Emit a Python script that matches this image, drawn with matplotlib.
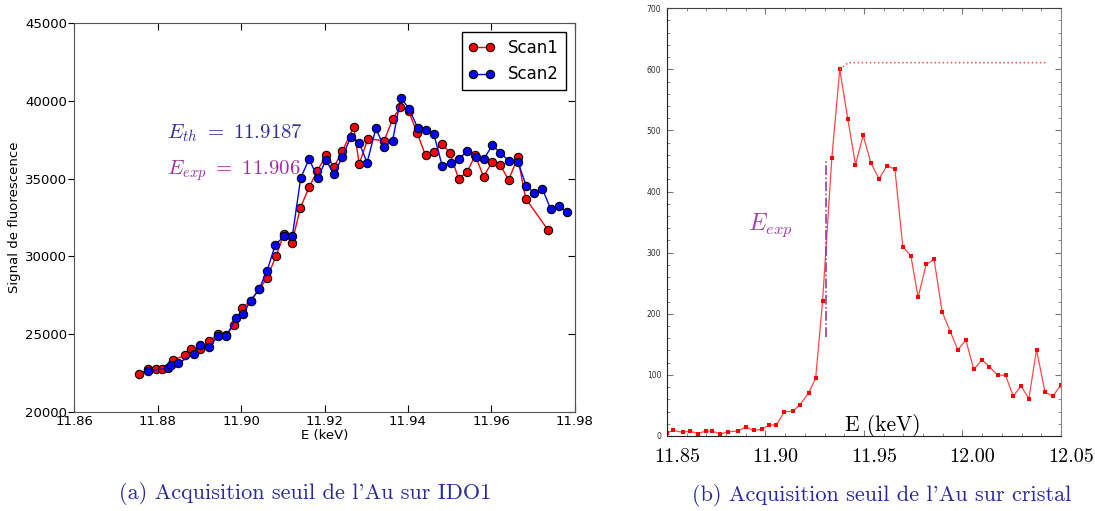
import matplotlib
matplotlib.use("Agg")
import matplotlib.pyplot as plt
from matplotlib.ticker import MultipleLocator
from matplotlib.transforms import ScaledTranslation

plt.rcParams["mathtext.fontset"] = "cm"

# ---- (a) IDO1 : deux scans ----
scan1_e = [11.8756, 11.8778, 11.8796, 11.8811, 11.8836, 11.8867, 11.8881, 11.8902, 11.8924, 11.8944,
           11.8964, 11.8984, 11.9002, 11.9023, 11.9044, 11.9062, 11.9084, 11.9103, 11.9122, 11.9142,
           11.9163, 11.9183, 11.9204, 11.9223, 11.9243, 11.9270, 11.9283, 11.9304, 11.9343, 11.9363,
           11.9382, 11.9402, 11.9422, 11.9442, 11.9462, 11.9482, 11.9501, 11.9521, 11.9541, 11.9561,
           11.9581, 11.9601, 11.9621, 11.9641, 11.9663, 11.9682, 11.9735]
scan1_sig = [22432, 22750, 22754, 22773, 23312, 23655, 24021, 24021, 24536, 24987,
             24942, 25585, 26660, 27149, 27883, 28610, 30026, 31461, 30862, 33114,
             34447, 35515, 36506, 35772, 36782, 38346, 35946, 37574, 37446, 38823,
             39633, 39337, 37921, 36506, 36738, 37233, 36635, 35000, 35411, 36506,
             35129, 36056, 35882, 34917, 36377, 33713, 31718]

scan2_e = [11.8777, 11.8824, 11.8832, 11.8850, 11.8887, 11.8902, 11.8923, 11.8944, 11.8964, 11.8988,
           11.9004, 11.9023, 11.9043, 11.9062, 11.9082, 11.9104, 11.9123, 11.9143, 11.9163, 11.9184,
           11.9203, 11.9223, 11.9243, 11.9263, 11.9283, 11.9302, 11.9323, 11.9343, 11.9363, 11.9383,
           11.9403, 11.9423, 11.9443, 11.9462, 11.9482, 11.9502, 11.9522, 11.9542, 11.9562, 11.9582,
           11.9602, 11.9621, 11.9641, 11.9663, 11.9683, 11.9702, 11.9722, 11.9742, 11.9762, 11.9782]
scan2_sig = [22625, 22799, 23031, 23140, 23719, 24279, 24150, 24858, 24858, 26017,
             26274, 27149, 27883, 29041, 30734, 31333, 31313, 35045, 36268, 35045,
             36185, 35323, 36415, 37703, 37317, 36030, 38243, 37021, 37446, 40212,
             39486, 38282, 38134, 37857, 35817, 36030, 36287, 36763, 36415, 36287,
             37150, 36673, 36171, 36100, 34550, 34099, 34350, 33020, 33243, 32850]

E_th = 11.9187
E_exp_a = 11.906

# ---- (b) cristal ----
cristal_e = [11.850, 11.853, 11.858, 11.8615, 11.8656, 11.8697, 11.873, 11.877, 11.881, 11.886,
             11.890, 11.894, 11.898, 11.902, 11.9055, 11.9095, 11.914, 11.9175, 11.922, 11.9255,
             11.929, 11.9337, 11.9377, 11.9418, 11.9457, 11.9496, 11.9536, 11.9577, 11.9616, 11.9657,
             11.9697, 11.9738, 11.9775, 11.9816, 11.9856, 11.9897, 11.9938, 11.9977, 12.0017, 12.0058,
             12.0099, 12.0137, 12.0178, 12.0219, 12.0258, 12.0297, 12.0337, 12.0376, 12.0419, 12.0459,
             12.0498]
cristal_cps = [5, 9, 6, 8, 4, 8, 8, 3, 7, 8,
               15, 9, 11, 18, 18, 39, 41, 51, 71, 95,
               221, 455, 600, 519, 444, 492, 446, 421, 442, 437,
               310, 295, 227, 281, 289, 203, 171, 141, 157, 109,
               125, 113, 100, 99, 65, 82, 61, 141, 72, 65,
               83]

# palier (pointillés) et trait du seuil
palier_e = [11.9377, 11.942, 12.043]
palier_cps = [600, 611, 611]
seuil_e = [11.9306, 11.9306]
seuil_cps = [162, 451]

x_ticks_b = [11.85, 11.90, 11.95, 12.00, 12.05]

fig = plt.figure(figsize=(10.95, 5.11), dpi=100)

# ================= panneau (a) =================
ax1 = fig.add_axes([0.0676, 0.1941, 0.4575, 0.7603])
ax1.plot(scan1_e, scan1_sig, "-o", color="red", mfc="red", mec="black", mew=0.8,
         ms=6, lw=1, label="Scan1")
ax1.plot(scan2_e, scan2_sig, "-o", color="blue", mfc="blue", mec="black", mew=0.8,
         ms=6, lw=1, label="Scan2")
ax1.set_xlim(11.86, 11.98)
ax1.set_ylim(20000, 45000)
ax1.set_xticks([11.86, 11.88, 11.90, 11.92, 11.94, 11.96, 11.98])
ax1.set_xticklabels(["%.2f" % v for v in ax1.get_xticks()])
ax1.set_yticks(range(20000, 45001, 5000))
ax1.tick_params(axis="x", direction="in", top=True, length=5, labelsize=9.5, pad=2)
ax1.tick_params(axis="y", direction="out", length=4, labelsize=9.5, pad=1)
for s in ax1.spines.values():
    s.set_color("#555555")
# petits traits internes à droite
droite = ax1.secondary_yaxis("right")
droite.set_yticks(range(20000, 45001, 5000))
droite.tick_params(direction="in", length=5, labelright=False)
droite.spines["right"].set_color("#555555")
ax1.set_xlabel("E (keV)", fontsize=9.5, labelpad=1)
ax1.set_ylabel("Signal de fluorescence", fontsize=9.5, labelpad=3)
ax1.legend(loc="upper right", numpoints=2, fancybox=False, edgecolor="black",
           framealpha=1, fontsize=12, handlelength=1.6, borderaxespad=0.55)
ax1.text(11.8823, 37941, r"$E_{th}\ =\ %.4f$" % E_th, color="#2e2ea0",
         fontsize=15, va="center")
ax1.text(11.8823, 35495, r"$E_{exp}\ =\ %.3f$" % E_exp_a, color="#a030a0",
         fontsize=15, va="center")

# ================= panneau (b) =================
ax2 = fig.add_axes([0.6091, 0.1468, 0.3598, 0.8370])
ax2.plot(cristal_e, cristal_cps, "-", color="#ff4848", lw=0.9)
ax2.plot(cristal_e, cristal_cps, "s", color="red", ms=3.2, mew=0)
ax2.plot(palier_e, palier_cps, ":", color="#ff5050", lw=1.1)
ax2.plot(seuil_e, seuil_cps, "-.", color="#8a2aa8", lw=1.1)
ax2.set_xlim(11.85, 12.05)
ax2.set_ylim(0, 700)
ax2.set_xticks(x_ticks_b)
ax2.set_xticklabels(["%.2f" % v for v in x_ticks_b], fontfamily="cmr10", fontsize=14.5)
ax2.xaxis.set_minor_locator(MultipleLocator(0.01))
ax2.yaxis.set_major_locator(MultipleLocator(100))
ax2.yaxis.set_minor_locator(MultipleLocator(20))
ax2.tick_params(which="both", direction="in", top=True, right=True, color="#777777")
ax2.tick_params(which="major", length=4)
ax2.tick_params(which="minor", length=2)
ax2.tick_params(axis="x", which="major", pad=9)
ax2.tick_params(axis="y", labelsize=5.5, labelcolor="#333333", pad=4)
# les étiquettes LaTeX sont un peu décalées à droite
for lab in ax2.get_xticklabels():
    lab.set_transform(lab.get_transform() + ScaledTranslation(0.10, 0, fig.dpi_scale_trans))
ax2.spines["left"].set_color("#222222")
ax2.spines["bottom"].set_color("#222222")
ax2.spines["top"].set_color("#444444")
ax2.spines["right"].set_color("#888888")
ax2.text(0.548, 0.025, "E (keV)", transform=ax2.transAxes, fontfamily="cmr10",
         fontsize=15.5, ha="center", va="center")
ax2.text(11.891, 345, r"$E_{exp}$", color="#a040b0", fontsize=17, va="center")

# légendes des sous-figures
fig.text(0.2785, 0.035, "(a) Acquisition seuil de l'Au sur IDO1", fontfamily="cmr10",
         fontsize=16, color="#2a2aa0", ha="center", va="center")
fig.text(0.8055, 0.031, "(b) Acquisition seuil de l'Au sur cristal", fontfamily="cmr10",
         fontsize=16, color="#2a2aa0", ha="center", va="center")

fig.savefig("out.png", dpi=100)
